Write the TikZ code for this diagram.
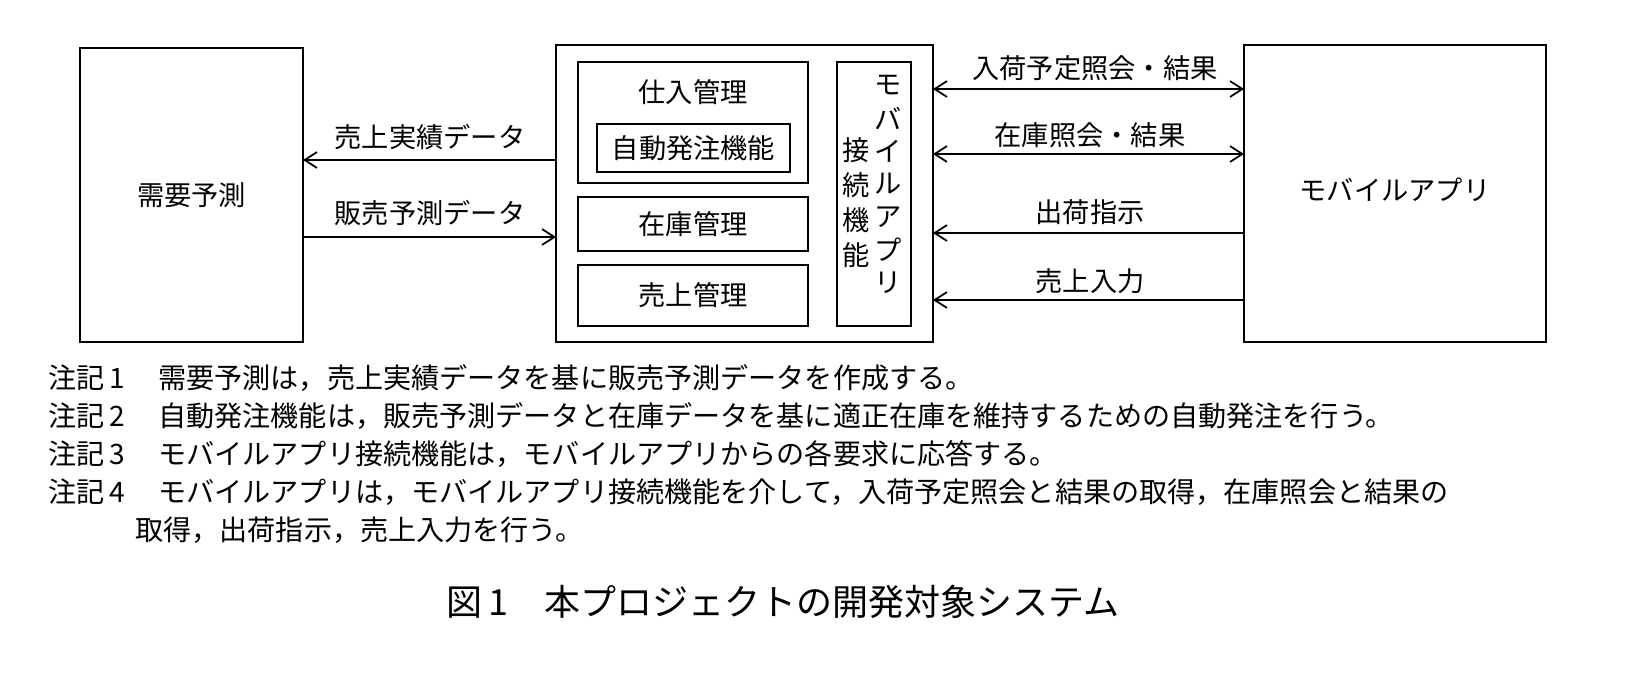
\documentclass[tikz,border=0pt]{standalone}
\usepackage{fontspec}
\setmainfont{Noto Sans CJK JP}
\usetikzlibrary{arrows.meta}
\begin{document}
\begin{tikzpicture}[x=0.02cm,y=-0.02cm,
  box/.style={draw,line width=1pt},
  conn/.style={line width=1pt,-{Straight Barb[length=7pt,width=9pt]}},
  dconn/.style={line width=1pt,{Straight Barb[length=7pt,width=9pt]}-{Straight Barb[length=7pt,width=9pt]}},
  lbl/.style={font=\fontsize{15.5pt}{17pt}\selectfont,inner sep=0},
  note/.style={font=\fontsize{16pt}{18pt}\selectfont,inner sep=0,anchor=west}]
\useasboundingbox (0,0) rectangle (1628,690);
\node[box,minimum width=223*0.02cm,minimum height=294*0.02cm] (demand) at (191.5,195) {};
\node[lbl] at (191.5,195) {需要予測};
\node[box,minimum width=377*0.02cm,minimum height=297*0.02cm] (sys) at (744.5,193.5) {};
\node[box,minimum width=230*0.02cm,minimum height=121*0.02cm] (shiire) at (693,122.5) {};
\node[lbl] at (693,92) {仕入管理};
\node[box,minimum width=193*0.02cm,minimum height=48*0.02cm] (auto) at (693.5,148) {};
\node[lbl] at (693.5,148) {自動発注機能};
\node[box,minimum width=230*0.02cm,minimum height=54*0.02cm] (zaiko) at (693,224) {};
\node[lbl] at (693,224) {在庫管理};
\node[box,minimum width=230*0.02cm,minimum height=61*0.02cm] (uri) at (693,295.5) {};
\node[lbl] at (693,295.5) {売上管理};
\node[box,minimum width=74*0.02cm,minimum height=264*0.02cm] (mobcon) at (874,194) {};
\foreach \c [count=\i] in {モ,バ,イ,ル,ア,プ,リ}
  \node[lbl] at (888,52+\i*33) {\c};
\foreach \c [count=\i] in {接,続,機,能}
  \node[lbl] at (856,115+\i*35) {\c};
\node[box,minimum width=302*0.02cm,minimum height=297*0.02cm] (app) at (1395,193.5) {};
\node[lbl] at (1395,190) {モバイルアプリ};
\coordinate (a1) at (556,160); \coordinate (b1) at (303,160);
\draw[conn] (a1) -- (b1);
\node[lbl] at (430,137) {売上実績データ};
\coordinate (a2) at (303,237); \coordinate (b2) at (556,237);
\draw[conn] (a2) -- (b2);
\node[lbl] at (430,213) {販売予測データ};
\coordinate (r1a) at (933,89); \coordinate (r1b) at (1244,89);
\draw[dconn] (r1a) -- (r1b);
\node[lbl] at (1095,68) {入荷予定照会・結果};
\coordinate (r2a) at (933,154); \coordinate (r2b) at (1244,154);
\draw[dconn] (r2a) -- (r2b);
\node[lbl] at (1090,135) {在庫照会・結果};
\coordinate (r3a) at (1244,233); \coordinate (r3b) at (933,233);
\draw[conn] (r3a) -- (r3b);
\node[lbl] at (1090,212) {出荷指示};
\coordinate (r4a) at (1244,300); \coordinate (r4b) at (933,300);
\draw[conn] (r4a) -- (r4b);
\node[lbl] at (1090,281) {売上入力};
\node[note] at (48,378) {注記\,1};
\node[note] at (158,378) {需要予測は，売上実績データを基に販売予測データを作成する。};
\node[note] at (48,416) {注記\,2};
\node[note] at (158,416) {自動発注機能は，販売予測データと在庫データを基に適正在庫を維持するための自動発注を行う。};
\node[note] at (48,454) {注記\,3};
\node[note] at (158,454) {モバイルアプリ接続機能は，モバイルアプリからの各要求に応答する。};
\node[note] at (48,492) {注記\,4};
\node[note] at (158,492) {モバイルアプリは，モバイルアプリ接続機能を介して，入荷予定照会と結果の取得，在庫照会と結果の};
\node[note] at (135,530) {取得，出荷指示，売上入力を行う。};
\node[font=\fontsize{20.5pt}{22pt}\selectfont,inner sep=0] at (783,602) {図\,1\quad 本プロジェクトの開発対象システム};
\end{tikzpicture}
\end{document}
